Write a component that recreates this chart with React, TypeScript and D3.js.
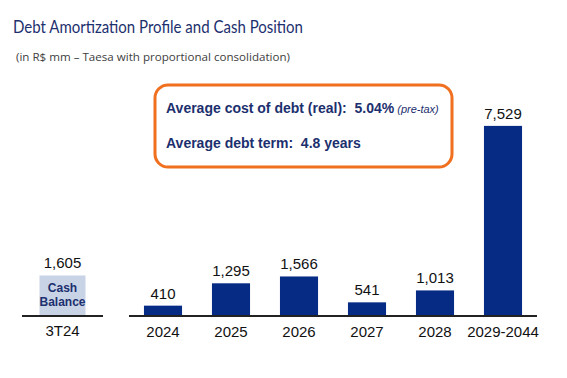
import React from "react";
import * as d3 from "d3";

const title = "Debt Amortization Profile and Cash Position";
const subtitle = "(in R$ mm – Taesa with proportional consolidation)";
const cashCategory = ["3T24"];
const cashValues = [1605];
const cashLabel = ["Cash", "Balance"];
const debtCategories = ["2024", "2025", "2026", "2027", "2028", "2029-2044"];
const debtValues = [410, 1295, 1566, 541, 1013, 7529];
const boxLine1 = "Average cost of debt (real):  5.04%";
const boxLine1b = "(pre-tax)";
const boxLine2 = "Average debt term:  4.8 years";

const W = 567;
const H = 378;
const NAVY = "#062b84";
const LIGHT = "#c8d3e6";
const ORANGE = "#f0701f";
const TEXT_NAVY = "#1c2f6e";

export default function App() {
  const y = d3.scaleLinear().domain([0, 8000]).range([316, 114]);
  const xCash = d3.scaleBand<string>().domain(cashCategory).range([22, 103]).paddingInner(0).paddingOuter(0.38);
  const xDebt = d3.scaleBand<string>().domain(debtCategories).range([129, 537]).paddingInner(0.44).paddingOuter(0.22);
  const fmt = d3.format(",");
  const labelFont = "'Liberation Sans', Arial, sans-serif";
  const boxFont = "'Liberation Sans', Arial, sans-serif";

  return (
    <svg width={W} height={H} style={{ position: "absolute", left: 0, top: 0, background: "#fff" }}>
      <rect x={0} y={0} width={W} height={H} fill="#fff" />
      <text x={13} y={33} fontFamily="Lato, 'Open Sans', sans-serif" fontSize={17} fill={TEXT_NAVY}
        textLength={290} lengthAdjust="spacingAndGlyphs">{title}</text>
      <text x={16} y={61} fontFamily="'Open Sans', sans-serif" fontSize={10.5} fill="#404040"
        textLength={274} lengthAdjust="spacingAndGlyphs">{subtitle}</text>

      {/* Orange box */}
      <rect x={155} y={85} width={297} height={82} rx={13} ry={13} fill="#fff" stroke={ORANGE} strokeWidth={3} />
      <text x={166} y={113} fontFamily={boxFont} fontWeight="bold" fontSize={14} fill={TEXT_NAVY} style={{ whiteSpace: "pre" }}>
        <tspan>{boxLine1}</tspan>
        <tspan fontWeight="normal" fontStyle="italic" fontSize={11} dx={3}>{boxLine1b}</tspan>
      </text>
      <text x={166} y={148} fontFamily={boxFont} fontWeight="bold" fontSize={14} fill={TEXT_NAVY} style={{ whiteSpace: "pre" }}>
        {boxLine2}
      </text>

      {/* Cash bar */}
      {cashCategory.map((c, i) => {
        const x0 = xCash(c)!;
        const bw = xCash.bandwidth();
        const cx = x0 + bw / 2;
        return (
          <g key={c}>
            <rect x={x0} y={y(cashValues[i])} width={bw} height={y(0) - y(cashValues[i])} fill={LIGHT} />
            <text x={cx} y={292} textAnchor="middle" fontFamily={boxFont} fontWeight="bold" fontSize={12} fill={TEXT_NAVY}>{cashLabel[0]}</text>
            <text x={cx} y={306} textAnchor="middle" fontFamily={boxFont} fontWeight="bold" fontSize={12} fill={TEXT_NAVY}>{cashLabel[1]}</text>
            <text x={cx} y={y(cashValues[i]) - 7} textAnchor="middle" fontFamily={labelFont} fontSize={15} fill="#111">{fmt(cashValues[i])}</text>
            <text x={cx} y={336} textAnchor="middle" fontFamily={labelFont} fontSize={15} fill="#111">{c}</text>
          </g>
        );
      })}
      <line x1={22} x2={103} y1={316} y2={316} stroke="#222" strokeWidth={2} />

      {/* Debt bars */}
      {debtCategories.map((c, i) => {
        const x0 = xDebt(c)!;
        const bw = xDebt.bandwidth();
        const cx = x0 + bw / 2;
        return (
          <g key={c}>
            <rect x={x0} y={y(debtValues[i])} width={bw} height={y(0) - y(debtValues[i])} fill={NAVY} />
            <text x={cx} y={y(debtValues[i]) - 7} textAnchor="middle" fontFamily={labelFont} fontSize={15} fill="#111">{fmt(debtValues[i])}</text>
            <text x={cx} y={337} textAnchor="middle" fontFamily={labelFont} fontSize={15} fill="#111">{c}</text>
          </g>
        );
      })}
      <line x1={129} x2={537} y1={316} y2={316} stroke="#222" strokeWidth={2} />
    </svg>
  );
}
